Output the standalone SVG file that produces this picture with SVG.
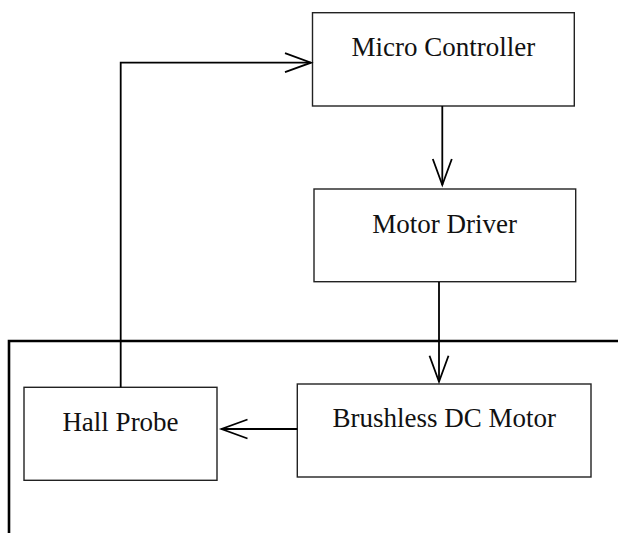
<svg xmlns="http://www.w3.org/2000/svg" width="618" height="533" viewBox="0 0 618 533">
<style>
.box{fill:#fff;stroke:#222;stroke-width:1.4}
.lbl{font-family:"Liberation Serif","DejaVu Serif",serif;font-size:27px;fill:#111;text-anchor:middle}
.con{fill:none;stroke:#000;stroke-width:1.8}
.frame{fill:none;stroke:#000;stroke-width:2.6}
</style>
<defs>
<marker id="ah" markerUnits="userSpaceOnUse" markerWidth="40" markerHeight="30" viewBox="-30 -15 40 30" refX="0" refY="0" orient="auto">
<path d="M-26,-9.5 L0,0 L-26,9.5" fill="none" stroke="#000" stroke-width="1.8"/>
</marker>
</defs>
<path class="frame" d="M9,533 V341 H618"/>
<g id="micro-controller">
<rect class="box" x="312.5" y="12.7" width="261.8" height="93.3"/>
<text class="lbl" x="443.3" y="56">Micro Controller</text>
</g>
<g id="motor-driver">
<rect class="box" x="314" y="189" width="261.7" height="92.7"/>
<text class="lbl" x="444.7" y="233.3">Motor Driver</text>
</g>
<g id="brushless-dc-motor">
<rect class="box" x="297.3" y="384" width="293.7" height="93"/>
<text class="lbl" x="444.2" y="426.7">Brushless DC Motor</text>
</g>
<g id="hall-probe">
<rect class="box" x="24" y="387.3" width="193" height="93"/>
<text class="lbl" x="120.5" y="431">Hall Probe</text>
</g>
<g id="connectors">
<path class="con" d="M120.7,387.3 V62.7 H311" marker-end="url(#ah)"/>
<path class="con" d="M442.3,106 V185" marker-end="url(#ah)"/>
<path class="con" d="M439,282 V381.7" marker-end="url(#ah)"/>
<path class="con" d="M297.3,429 H221.5" marker-end="url(#ah)"/>
</g>
</svg>
